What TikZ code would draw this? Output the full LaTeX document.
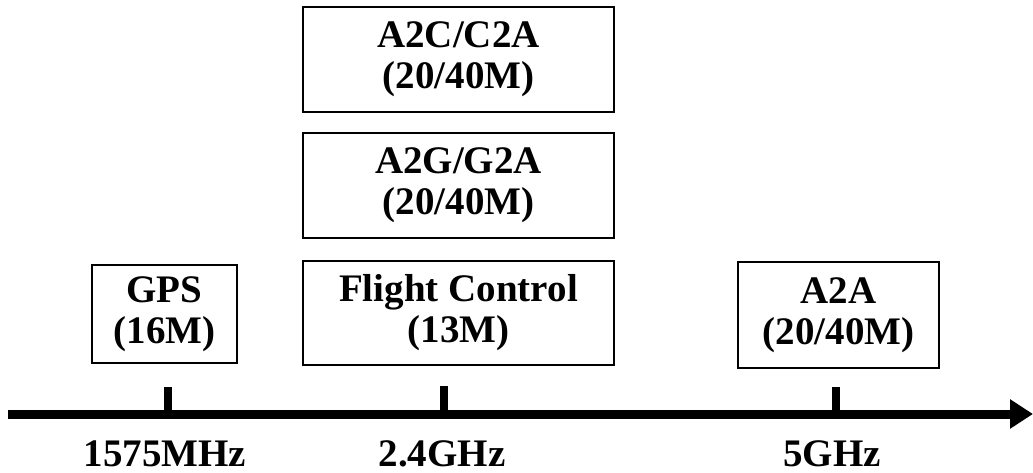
\documentclass[tikz,border=0pt]{standalone}
\usepackage{fontspec}
\setmainfont{Liberation Serif}
\usetikzlibrary{arrows.meta}
\tikzset{
  band/.style={draw=black, line width=1.3pt, align=center, inner sep=0pt,
    font=\bfseries\fontsize{39}{41}\selectfont},
  freqlabel/.style={anchor=base, inner sep=0pt, font=\bfseries\fontsize{39}{41}\selectfont},
  tickmark/.style={line width=8pt},
  axisline/.style={line width=9pt, -{Triangle[length=23pt,width=28pt]}}
}
\begin{document}
\begin{tikzpicture}[x=1pt,y=-1pt]
\useasboundingbox (0,0) rectangle (1033,473);
% boxes
\node[band, minimum width=145pt, minimum height=98pt] (gps) at (164.5,314) {GPS\\(16M)};
\node[band, minimum width=311pt, minimum height=104pt] (fc) at (458.5,313) {Flight Control\\(13M)};
\node[band, minimum width=311pt, minimum height=105pt] (a2g) at (458.5,185.5) {A2G/G2A\\(20/40M)};
\node[band, minimum width=311pt, minimum height=105pt] (a2c) at (458.5,59.5) {A2C/C2A\\(20/40M)};
\node[band, minimum width=201pt, minimum height=106pt] (a2a) at (838.5,315) {A2A\\(20/40M)};
% axis
\coordinate (axL) at (8,414);
\coordinate (axR) at (1033,414);
\draw[axisline] (axL) -- (axR);
% ticks
\coordinate (t1top) at (168,387);
\coordinate (t1bot) at (168,414);
\coordinate (t2top) at (444,386);
\coordinate (t2bot) at (444,414);
\coordinate (t3top) at (836,387);
\coordinate (t3bot) at (836,414);
\draw[tickmark] (t1top) -- (t1bot);
\draw[tickmark] (t2top) -- (t2bot);
\draw[tickmark] (t3top) -- (t3bot);
% labels
\node[freqlabel] (f1) at (165,466) {1575MHz};
\node[freqlabel] (f2) at (442,466) {2.4GHz};
\node[freqlabel] (f3) at (832,466) {5GHz};
\end{tikzpicture}
\end{document}
